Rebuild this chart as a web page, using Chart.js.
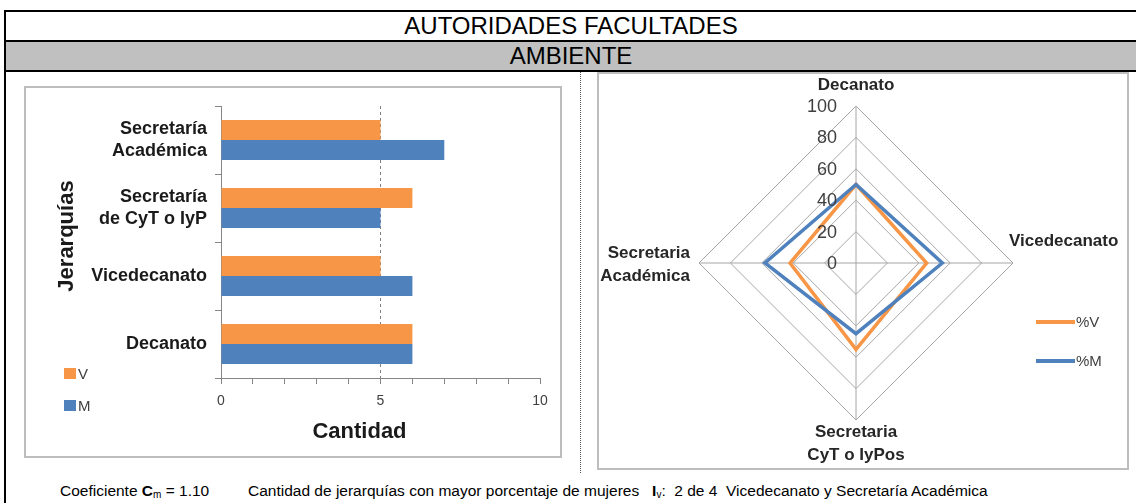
<!DOCTYPE html>
<html>
<head>
<meta charset="utf-8">
<script src="https://cdn.jsdelivr.net/npm/chart.js@4.4.1/dist/chart.umd.min.js"></script>
<style>
html,body{margin:0;padding:0;width:1136px;height:503px;overflow:hidden;background:#fff;font-family:"Liberation Sans",Arial,sans-serif;color:#000;}
.abs{position:absolute;}
#frameLeft{left:4px;top:10px;width:2px;height:493px;background:#000;}
.hline{left:4px;width:1132px;height:2px;background:#000;}
#band{left:6px;top:42px;width:1130px;height:28px;background:#c0c0c0;}
.head{left:6px;width:1130px;height:28px;line-height:28px;text-align:center;font-size:24px;}
#sep{left:580px;top:72px;height:401px;width:0;border-left:1px dotted #555;}
#barBox{left:24px;top:86px;width:534px;height:368px;border:2px solid #bdbdbd;background:#fff;}
#radarBox{left:597px;top:72px;width:528px;height:394px;border:2px solid #bdbdbd;background:#fff;}
canvas{position:absolute;left:0;top:0;}
.foot{top:482px;font-size:15.5px;line-height:18px;white-space:nowrap;}
.foot sub{font-size:10px;line-height:0;vertical-align:-2px;}
.leg{font-size:15px;color:#404040;white-space:nowrap;}
</style>
</head>
<body>
<div class="abs" id="frameLeft"></div>
<div class="abs hline" style="top:10px"></div>
<div class="abs head" style="top:12px">AUTORIDADES FACULTADES</div>
<div class="abs hline" style="top:40px"></div>
<div class="abs" id="band"></div>
<div class="abs head" style="top:42px">AMBIENTE</div>
<div class="abs hline" style="top:70px"></div>
<div class="abs" id="sep"></div>
<div class="abs" id="barBox"><canvas id="bar" width="534" height="368"></canvas></div>
<div class="abs" id="radarBox"><canvas id="radar" width="528" height="394"></canvas></div>
<div id="legends"></div>
<div class="abs foot" style="left:60px">Coeficiente <b>C</b><sub>m</sub> = 1.10</div>
<div class="abs foot" style="left:248px">Cantidad de jerarquías con mayor porcentaje de mujeres&nbsp;&nbsp; <b>I</b><sub>v</sub>:&nbsp; 2 de 4&nbsp; Vicedecanato y Secretaría Académica</div>
<script>
// ---- data ----
const categories = [["Secretaría", "Académica"], ["Secretaría", "de CyT o IyP"], "Vicedecanato", "Decanato"];
const seriesNames = ["V", "M"];
const valuesV = [5, 6, 5, 6];
const valuesM = [7, 5, 6, 6];
const xTickLabels = [0, 5, 10];
const xTitle = "Cantidad";
const yTitle = "Jerarquías";

const radarLabels = ["Decanato", "Vicedecanato", ["Secretaria", "CyT o IyPos"], ["Secretaria", "Académica"]];
const radarSeriesNames = ["%V", "%M"];
const pctV = [50, 45, 55, 42];
const pctM = [50, 55, 45, 58];
const radarTicks = [0, 20, 40, 60, 80, 100];

// ---- styles ----
const ORANGE = "#F79646";
const BLUE = "#4F81BD";
const FONT = '"Liberation Sans", Arial, sans-serif';
Chart.defaults.font.family = FONT;

// axis titles drawn at the reference's offsets
const barTitlesPlugin = {
  id: "barTitles",
  afterDraw(chart) {
    const ctx = chart.ctx, a = chart.chartArea;
    ctx.save();
    ctx.font = "bold 22px " + FONT;
    ctx.fillStyle = "#1a1a1a";
    ctx.textAlign = "center";
    ctx.textBaseline = "middle";
    ctx.fillText(xTitle, (a.left + a.right) / 2 - 21, chart.scales.x.bottom - 24);
    ctx.translate(41, (a.top + a.bottom) / 2 - 6);
    ctx.rotate(-Math.PI / 2);
    ctx.fillText(yTitle, 0, 0);
    ctx.restore();
  }
};

// ---- bar chart ----
const barChart = new Chart(document.getElementById("bar"), {
  type: "bar",
  data: {
    labels: categories,
    datasets: [
      { label: seriesNames[0], data: valuesV, backgroundColor: ORANGE, categoryPercentage: 0.59, barPercentage: 1.0 },
      { label: seriesNames[1], data: valuesM, backgroundColor: BLUE, categoryPercentage: 0.59, barPercentage: 1.0 }
    ]
  },
  options: {
    indexAxis: "y",
    responsive: false,
    animation: false,
    events: [],
    layout: { padding: { left: 0, top: 18, right: 20, bottom: 0 } },
    plugins: { legend: { display: false }, tooltip: { enabled: false } },
    scales: {
      x: {
        min: 0, max: 10,
        ticks: {
          stepSize: 1, autoSkip: false, maxRotation: 0, padding: 9, color: "#404040",
          font: { size: 14 },
          callback: (v) => xTickLabels.includes(v) ? String(v) : ""
        },
        grid: {
          drawOnChartArea: true, drawTicks: true, tickLength: 6, tickColor: "#868686",
          color: (c) => (c.tick && c.tick.value === 5) ? "#7f7f7f" : "rgba(0,0,0,0)",
          lineWidth: 1
        },
        border: { display: true, color: "#868686", width: 1, dash: [3, 3] },
        title: { display: false, text: xTitle },
        afterFit: (s) => { s.height = 78; s.paddingLeft = 0; s.paddingRight = 0; }
      },
      y: {
        ticks: { color: "#1a1a1a", font: { size: 18, weight: "bold", lineHeight: 1.25 }, padding: 8, autoSkip: false },
        grid: { offset: true, drawOnChartArea: false, drawTicks: true, tickLength: 6, tickColor: "#868686" },
        border: { display: true, color: "#868686", width: 1 },
        title: { display: false, text: yTitle },
        afterFit: (s) => { s.width = 195; s.paddingTop = 0; s.paddingBottom = 0; }
      }
    }
  },
  plugins: [barTitlesPlugin]
});

// ---- radar chart ----
const radarTextPlugin = {
  id: "radarText",
  afterDraw(chart) {
    const s = chart.scales.r, ctx = chart.ctx;
    ctx.save();
    ctx.font = "18px " + FONT;
    ctx.fillStyle = "#404040";
    ctx.textAlign = "right";
    ctx.textBaseline = "middle";
    radarTicks.forEach((t) => {
      const d = s.getDistanceFromCenterForValue(t);
      ctx.fillText(String(t), s.xCenter - 19, s.yCenter - d + 1);
    });
    ctx.font = "bold 17px " + FONT;
    ctx.fillStyle = "#262626";
    radarLabels.forEach((lab, i) => {
      const p = s.getPointPosition(i, s.drawingArea);
      const lines = Array.isArray(lab) ? lab : [lab];
      let x = p.x, y = p.y;
      if (i === 0) { ctx.textAlign = "center"; y = p.y - 21; }
      else if (i === 1) { ctx.textAlign = "left"; x = p.x - 4; y = p.y - 22; }
      else if (i === 2) { ctx.textAlign = "center"; y = p.y + 12; }
      else { ctx.textAlign = "right"; x = p.x - 9; y = p.y - 10; }
      lines.forEach((ln, k) => ctx.fillText(ln, x, y + k * 23));
    });
    ctx.restore();
  }
};

const radarChart = new Chart(document.getElementById("radar"), {
  type: "radar",
  data: {
    labels: radarLabels,
    datasets: [
      { label: radarSeriesNames[0], data: pctV, borderColor: ORANGE, backgroundColor: ORANGE, borderWidth: 3.5, pointRadius: 0, fill: false, order: 2 },
      { label: radarSeriesNames[1], data: pctM, borderColor: BLUE, backgroundColor: BLUE, borderWidth: 3.5, pointRadius: 0, fill: false, order: 1 }
    ]
  },
  options: {
    responsive: false,
    animation: false,
    events: [],
    layout: { padding: { left: 100, right: 114, top: 32, bottom: 48 } },
    plugins: { legend: { display: false }, tooltip: { enabled: false } },
    scales: {
      r: {
        min: 0, max: 100,
        ticks: { stepSize: 20, display: false },
        grid: { color: "#a6a6a6", lineWidth: 1, circular: false },
        angleLines: { color: "#a6a6a6", lineWidth: 1 },
        pointLabels: { display: false }
      }
    }
  },
  plugins: [radarTextPlugin]
});

// ---- HTML legends built from the charts' datasets ----
const legends = document.getElementById("legends");
barChart.data.datasets.forEach((ds, i) => {
  const top = 368 + i * 32;
  legends.insertAdjacentHTML("beforeend",
    `<div class="abs" style="left:64px;top:${top}px;width:12px;height:11px;background:${ds.backgroundColor}"></div>` +
    `<div class="abs leg" style="left:78px;top:${top - 4}px;line-height:19px">${ds.label}</div>`);
});
radarChart.data.datasets.forEach((ds, i) => {
  const top = 320 + i * 39;
  legends.insertAdjacentHTML("beforeend",
    `<div class="abs" style="left:1036px;top:${top}px;width:39px;height:4px;background:${ds.borderColor}"></div>` +
    `<div class="abs leg" style="left:1076px;top:${top - 8}px;line-height:20px">${ds.label}</div>`);
});
</script>
</body>
</html>
